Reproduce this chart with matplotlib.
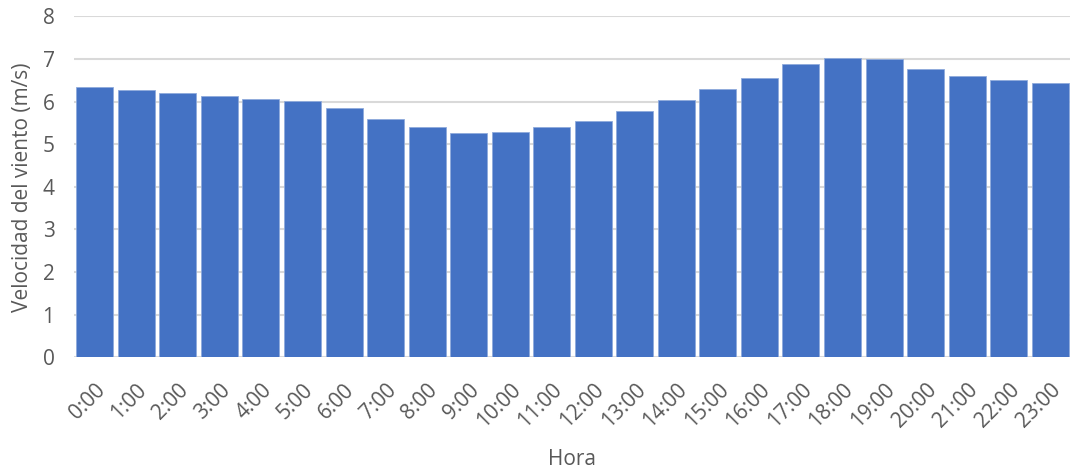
import matplotlib.pyplot as plt

# Velocidad media del viento por hora del día
horas = [f'{h}:00' for h in range(24)]
velocidad = [6.35, 6.27, 6.19, 6.13, 6.06, 6.02, 5.85, 5.58, 5.40, 5.27, 5.28, 5.40,
             5.55, 5.77, 6.04, 6.29, 6.56, 6.87, 7.02, 7.00, 6.77, 6.60, 6.50, 6.43]

plt.rcParams['font.family'] = ['Open Sans', 'DejaVu Sans']

fig = plt.figure(figsize=(10.7, 4.7), dpi=100)
ax = fig.add_axes([74 / 1070, 112.7 / 470, 997 / 1070, 341 / 470])

ax.bar(range(len(horas)), velocidad, width=0.89, color='#4472C4',
       edgecolor='#8FAADC', linewidth=0.6, zorder=3)

ax.set_xlim(-0.5, len(horas) - 0.5)
ax.set_ylim(0, 8)
ax.set_yticks(range(9))
ax.set_xticks(range(len(horas)))
ax.set_xticklabels(horas, rotation=45, ha='right', rotation_mode='anchor')

ax.grid(axis='y', color='#D9D9D9', linewidth=1.5, zorder=0)
for s in ax.spines.values():
    s.set_visible(False)
ax.tick_params(length=0, labelsize=15, colors='#595959')
ax.tick_params(axis='y', pad=14)
ax.tick_params(axis='x', pad=16)

ax.set_xlabel('Hora', fontsize=15, color='#595959', labelpad=12)
ax.set_ylabel('Velocidad del viento (m/s)', fontsize=15, color='#595959', labelpad=7)

plt.savefig('out.png', dpi=100)
